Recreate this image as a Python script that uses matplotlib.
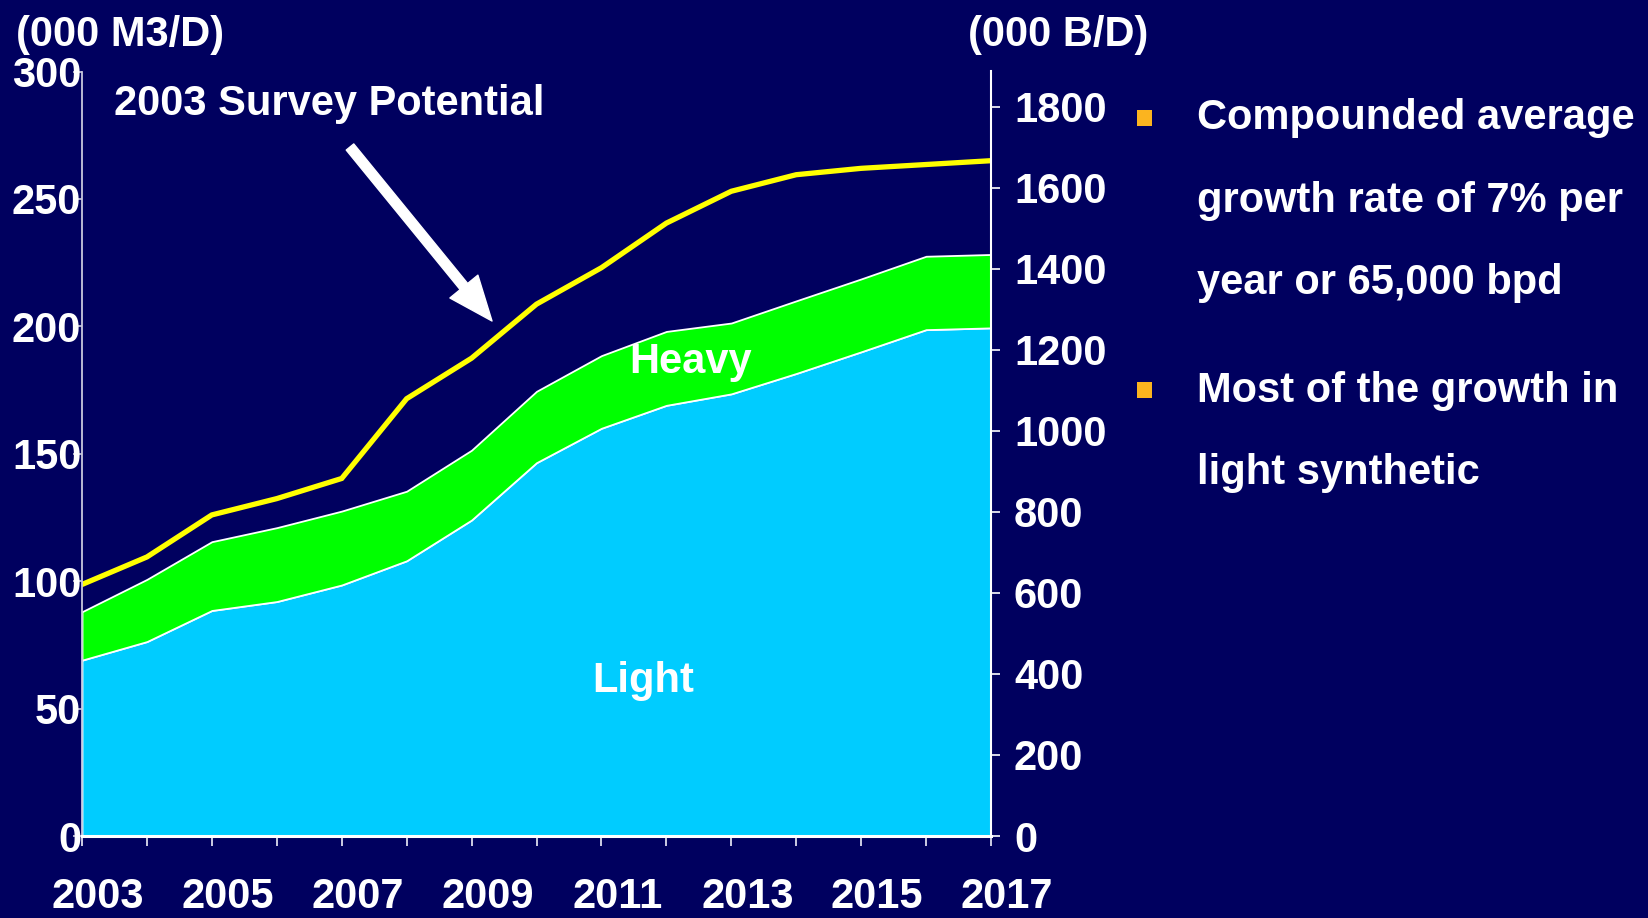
import matplotlib
matplotlib.use("Agg")
import matplotlib.pyplot as plt
import matplotlib.transforms as mtransforms
from matplotlib.patches import Rectangle

# ---------------- data (000 m3/d) ----------------
years = [2003, 2004, 2005, 2006, 2007, 2008, 2009, 2010,
         2011, 2012, 2013, 2014, 2015, 2016, 2017]
light = [69.0, 76.3, 88.5, 92.0, 98.5, 108.0, 124.0, 146.5,
         160.0, 169.0, 173.5, 181.5, 190.0, 198.7, 199.4]
light_plus_heavy = [88.0, 100.7, 115.5, 121.0, 127.5, 135.3, 151.4, 174.5,
                    188.5, 198.0, 201.3, 210.0, 218.6, 227.5, 228.2]
heavy = [t - l for t, l in zip(light_plus_heavy, light)]
survey_potential = [98.7, 109.5, 126.0, 132.4, 140.3, 171.6, 187.5, 208.7,
                    223.0, 240.5, 253.0, 259.5, 262.0, 263.5, 265.0]
year_labels = [str(y) if (y - 2003) % 2 == 0 else "" for y in years]
left_ticks = [0, 50, 100, 150, 200, 250, 300]
right_ticks = [0, 200, 400, 600, 800, 1000, 1200, 1400, 1600, 1800]
M3_TO_BBL = 6.29

bullets = [
    ["Compounded average", "growth rate of 7% per", "year or 65,000 bpd"],
    ["Most of the growth in", "light synthetic"],
]

# ---------------- style ----------------
BG = "#00005F"
CYAN = "#00CCFF"
GREEN = "#00FF00"
YELLOW = "#FFFF00"
ORANGE = "#FBB41F"
FONT = "Liberation Sans"
FS = 30

W, H = 1649, 918
fig = plt.figure(figsize=(W / 100, H / 100), dpi=100, facecolor=BG)

ax_l, ax_r, ax_b, ax_t = 82, 991, 836, 71.5
ax = fig.add_axes([ax_l / W, 1 - ax_b / H, (ax_r - ax_l) / W, (ax_b - ax_t) / H])
ax.set_facecolor(BG)

ax.stackplot(years, light, heavy, colors=[CYAN, GREEN],
             edgecolor="white", linewidth=1.3)
ax.plot(years, survey_potential, color=YELLOW, lw=3.8, solid_joinstyle="miter")

ax.set_xlim(years[0], years[-1])
ax.set_ylim(0, 300)

# x axis
ax.set_xticks(years)
ax.set_xticklabels(year_labels, fontsize=FS, fontweight="bold",
                   color="white", family=FONT)
ax.tick_params(axis="x", direction="out", length=7.5, width=1.3,
               color="#DDDDEE", pad=22)
offset = mtransforms.ScaledTranslation(16 / 100, 0, fig.dpi_scale_trans)
for lbl in ax.get_xticklabels():
    lbl.set_transform(lbl.get_transform() + offset)

# left y axis
ax.set_yticks(left_ticks)
ax.set_yticklabels([str(t) for t in left_ticks], fontsize=FS,
                   fontweight="bold", color="white", family=FONT)
ax.tick_params(axis="y", direction="out", length=6.5, width=1.2,
               color="#C8C8DD", pad=-6)

for s in ["top", "right"]:
    ax.spines[s].set_visible(False)
ax.spines["left"].set_color("#C8C8DD")
ax.spines["left"].set_linewidth(1.3)
ax.spines["bottom"].set_color("white")
ax.spines["bottom"].set_linewidth(2.2)
ax.spines["bottom"].set_zorder(5)

# right y axis
ax2 = ax.twinx()
ax2.set_ylim(0, 300 * M3_TO_BBL)
ax2.set_yticks(right_ticks)
ax2.set_yticklabels([str(t) for t in right_ticks], fontsize=FS,
                    fontweight="bold", color="white", family=FONT)
ax2.tick_params(axis="y", direction="out", length=6.5, width=1.2,
                color="white", pad=10)
for s in ["top", "left", "bottom"]:
    ax2.spines[s].set_visible(False)
ax2.spines["right"].set_color("white")
ax2.spines["right"].set_linewidth(1.5)

# in-chart labels
ax.text(2012.38, 186.0, "Heavy", fontsize=FS, fontweight="bold",
        color="white", family=FONT, ha="center", va="center")
ax.text(2011.65, 61, "Light", fontsize=FS, fontweight="bold",
        color="white", family=FONT, ha="center", va="center")

# axis unit titles
fig.text(16 / W, 1 - 35 / H, "(000 M3/D)", fontsize=FS, fontweight="bold",
         color="white", family=FONT, ha="left", va="center")
fig.text(968 / W, 1 - 35 / H, "(000 B/D)", fontsize=FS, fontweight="bold",
         color="white", family=FONT, ha="left", va="center")

# survey potential annotation
fig.text(114 / W, 1 - 104 / H, "2003 Survey Potential", fontsize=FS,
         fontweight="bold", color="white", family=FONT, ha="left", va="center")
ax.annotate("", xy=(492 / W, 1 - 321 / H), xycoords="figure fraction",
            xytext=(350 / W, 1 - 147 / H), textcoords="figure fraction",
            arrowprops=dict(facecolor="white", edgecolor="white", width=7,
                            headwidth=26, headlength=32, shrink=0))

# bullets
line_baselines = [[129, 212, 294], [402, 484]]
bullet_centers = [118, 390]
for lines, bases, bc in zip(bullets, line_baselines, bullet_centers):
    fig.add_artist(Rectangle(((1145 - 7.5) / W, 1 - (bc + 7.5) / H),
                             15 / W, 15 / H, transform=fig.transFigure,
                             facecolor=ORANGE, edgecolor="none"))
    for txt, b in zip(lines, bases):
        fig.text(1197 / W, 1 - b / H, txt, fontsize=FS, fontweight="bold",
                 color="white", family=FONT, ha="left", va="baseline")

fig.savefig("out.png", dpi=100, facecolor=BG)
